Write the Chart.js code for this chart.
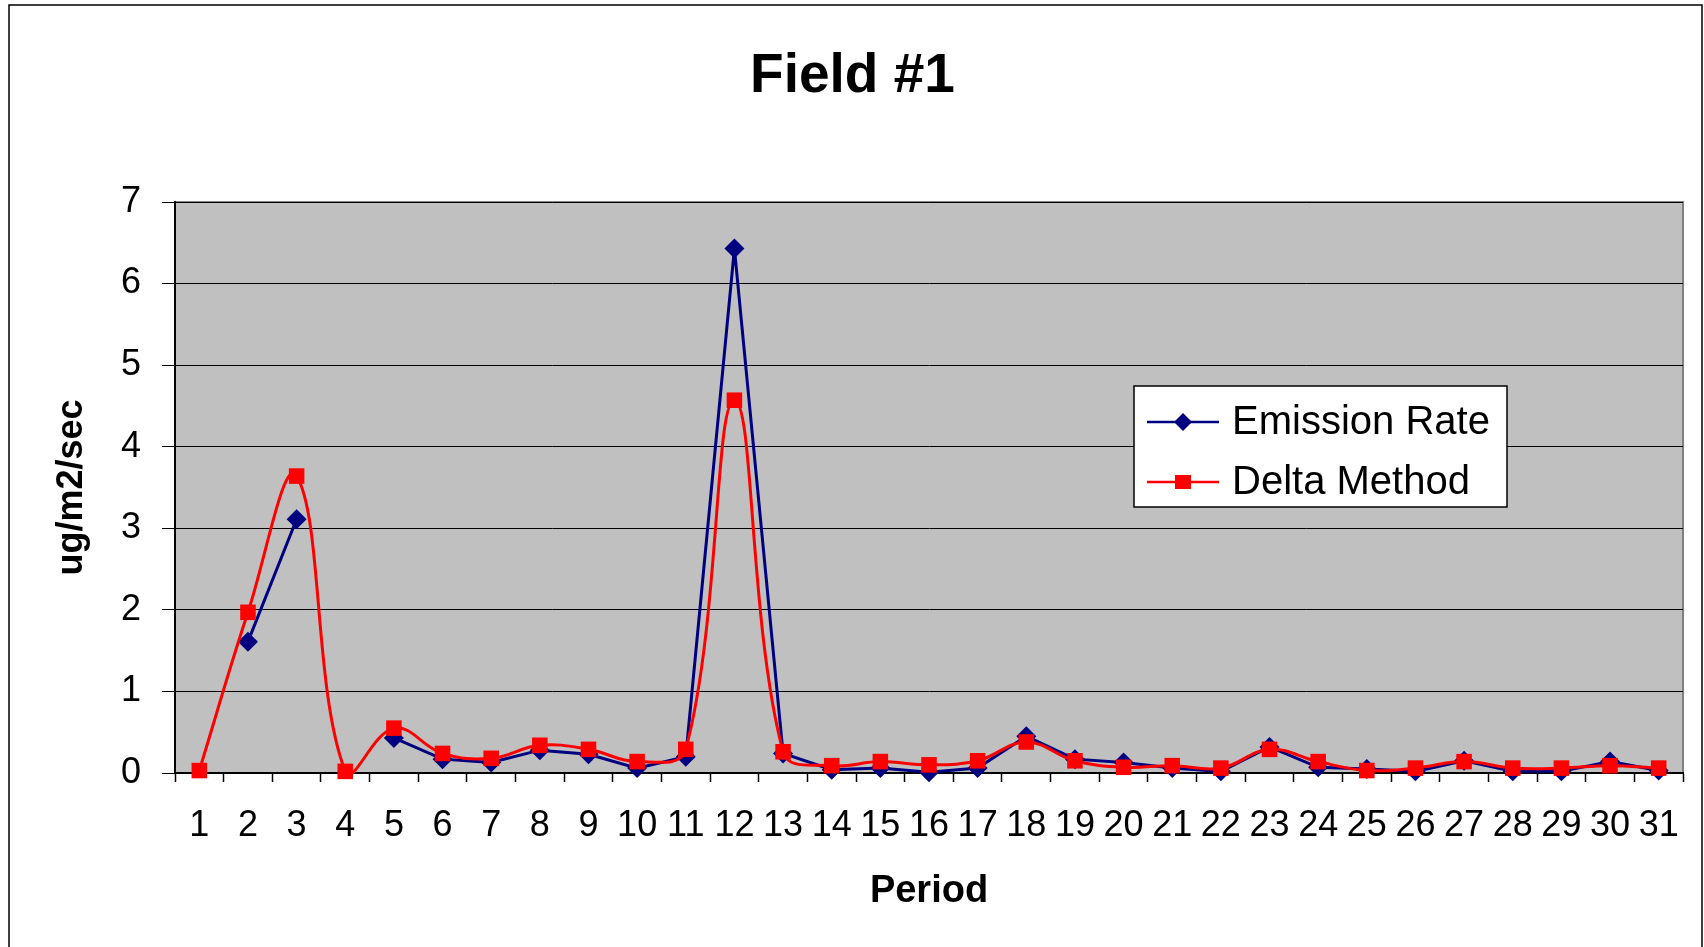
<!DOCTYPE html>
<html lang="en">
<head>
  <meta charset="UTF-8" />
  <title>Field #1</title>
  <script src="https://cdn.jsdelivr.net/npm/chart.js"></script>
  <style>
    html, body { margin: 0; padding: 0; background: #fff; overflow: hidden; }
    .wrap { position: relative; width: 1704px; height: 947px; }
  </style>
</head>
<body>
  <div class="wrap">
    <canvas id="fieldChart"></canvas>
  </div>

  <script>
    const periods = ['1','2','3','4','5','6','7','8','9','10','11','12','13','14','15','16','17','18','19','20','21','22','23','24','25','26','27','28','29','30','31'];
    const emissionRate = [null, 1.61, 3.11, null, 0.43, 0.17, 0.13, 0.28, 0.23, 0.06, 0.20, 6.43, 0.24, 0.04, 0.06, 0.01, 0.06, 0.45, 0.17, 0.13, 0.06, 0.02, 0.32, 0.07, 0.05, 0.02, 0.15, 0.02, 0.02, 0.14, 0.03];
    const deltaMethod = [0.03, 1.97, 3.64, 0.02, 0.55, 0.24, 0.18, 0.34, 0.29, 0.14, 0.29, 4.57, 0.26, 0.09, 0.14, 0.10, 0.15, 0.38, 0.15, 0.07, 0.09, 0.06, 0.29, 0.14, 0.03, 0.06, 0.14, 0.06, 0.06, 0.09, 0.06];
    const yTicks = [0, 1, 2, 3, 4, 5, 6, 7];

    const FONT = "'Liberation Sans', Arial, sans-serif";
    const NAVY = '#000080';
    const RED = '#ff0000';

    // grey plot area, its border and the outer frame
    const plotBg = {
      id: 'plotBg',
      beforeDraw(chart) {
        const { ctx, chartArea: a } = chart;
        ctx.save();
        ctx.fillStyle = '#fff';
        ctx.fillRect(0, 0, chart.width, chart.height);
        ctx.fillStyle = '#c0c0c0';
        ctx.fillRect(a.left, a.top, a.right - a.left, a.bottom - a.top);
        ctx.strokeStyle = '#808080';
        ctx.lineWidth = 2;
        ctx.beginPath();
        ctx.moveTo(a.left, a.top);
        ctx.lineTo(a.right, a.top);
        ctx.lineTo(a.right, a.bottom);
        ctx.stroke();
        ctx.strokeStyle = '#000';
        ctx.lineWidth = 1.5;
        ctx.beginPath();
        ctx.moveTo(9, chart.height);
        ctx.lineTo(9, 5);
        ctx.lineTo(1702, 5);
        ctx.lineTo(1702, chart.height);
        ctx.stroke();
        ctx.restore();
      }
    };

    // boxed legend inside the plot, like the spreadsheet one
    const boxLegend = {
      id: 'boxLegend',
      afterDraw(chart) {
        const ctx = chart.ctx;
        const box = { x: 1134, y: 386, w: 373, h: 121 };
        ctx.save();
        ctx.fillStyle = '#fff';
        ctx.fillRect(box.x, box.y, box.w, box.h);
        ctx.strokeStyle = '#000';
        ctx.lineWidth = 1.5;
        ctx.strokeRect(box.x, box.y, box.w, box.h);
        const rows = [
          { label: chart.data.datasets[0].label, color: NAVY, shape: 'diamond', y: 422 },
          { label: chart.data.datasets[1].label, color: RED, shape: 'square', y: 482 }
        ];
        rows.forEach(r => {
          ctx.strokeStyle = r.color;
          ctx.lineWidth = 2.5;
          ctx.beginPath();
          ctx.moveTo(1147, r.y);
          ctx.lineTo(1219, r.y);
          ctx.stroke();
          ctx.fillStyle = r.color;
          ctx.beginPath();
          if (r.shape === 'diamond') {
            ctx.moveTo(1183 - 9, r.y);
            ctx.lineTo(1183, r.y - 9);
            ctx.lineTo(1183 + 9, r.y);
            ctx.lineTo(1183, r.y + 9);
            ctx.closePath();
          } else {
            ctx.rect(1183 - 8, r.y - 7, 16, 14);
          }
          ctx.fill();
          ctx.fillStyle = '#000';
          ctx.font = '40px ' + FONT;
          ctx.textBaseline = 'middle';
          ctx.textAlign = 'left';
          ctx.fillText(r.label, 1232, r.y + 1);
        });
        ctx.restore();
      }
    };

    new Chart(document.getElementById('fieldChart'), {
      type: 'line',
      data: {
        labels: periods,
        datasets: [
          {
            label: 'Emission Rate',
            data: emissionRate,
            borderColor: NAVY,
            backgroundColor: NAVY,
            borderWidth: 3,
            pointStyle: 'rectRot',
            pointRadius: 10,
            pointBorderWidth: 0,
            tension: 0,
            spanGaps: false,
            order: 1
          },
          {
            label: 'Delta Method',
            data: deltaMethod,
            borderColor: RED,
            backgroundColor: RED,
            borderWidth: 3,
            pointStyle: 'rect',
            pointRadius: 11,
            pointBorderWidth: 0,
            tension: 0.4,
            order: 0
          }
        ]
      },
      options: {
        responsive: true,
        maintainAspectRatio: false,
        animation: false,
        clip: false,
        layout: { padding: { left: 22, right: 21, top: 0, bottom: 0 } },
        elements: { line: { capBezierPoints: false } },
        plugins: {
          legend: { display: false },
          tooltip: { enabled: false },
          title: {
            display: true,
            text: 'Field #1',
            color: '#000',
            font: { family: FONT, size: 55, weight: 'bold' },
            padding: { top: 44, bottom: 92 }
          }
        },
        scales: {
          x: {
            offset: true,
            afterFit: s => { s.height = 174; },
            grid: { display: true, offset: true, drawOnChartArea: false, drawTicks: true, tickLength: 9, tickColor: '#000', tickWidth: 1.5 },
            border: { color: '#000', width: 2 },
            ticks: { color: '#000', font: { family: FONT, size: 36 }, padding: 22, autoSkip: false, maxRotation: 0 },
            title: { display: true, text: 'Period', color: '#000', font: { family: FONT, size: 38, weight: 'bold' }, padding: { top: 0, bottom: 33 } }
          },
          y: {
            min: yTicks[0],
            max: yTicks[yTicks.length - 1],
            afterFit: s => { s.width = 153; },
            afterBuildTicks: s => { s.ticks = yTicks.map(v => ({ value: v })); },
            grid: { color: '#000', lineWidth: 1, tickLength: 13, tickColor: '#000' },
            border: { color: '#000', width: 2 },
            ticks: { color: '#000', font: { family: FONT, size: 36 }, padding: 21 },
            title: { display: true, text: 'ug/m2/sec', color: '#000', font: { family: FONT, size: 36, weight: 'bold' }, padding: { top: 28, bottom: 0 } }
          }
        }
      },
      plugins: [plotBg, boxLegend]
    });
  </script>
</body>
</html>
